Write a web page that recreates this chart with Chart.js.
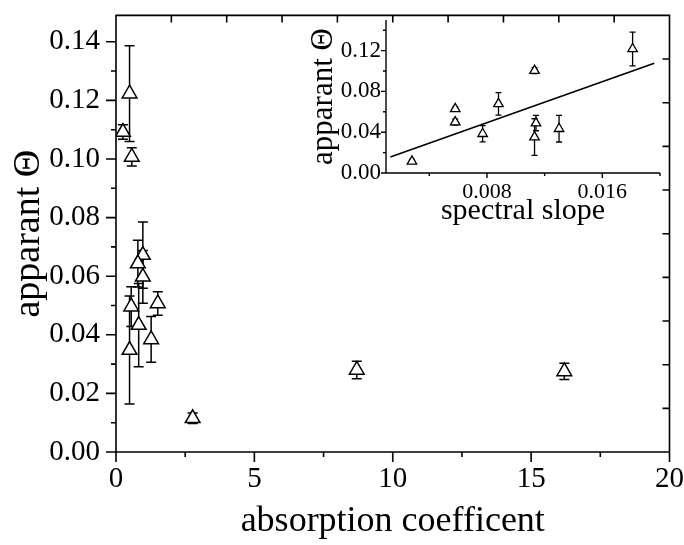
<!DOCTYPE html>
<html>
<head>
<meta charset="utf-8">
<script src="https://cdn.jsdelivr.net/npm/chart.js@4.4.0/dist/chart.umd.min.js"></script>
<style>
  html, body { margin: 0; padding: 0; background: #fff; overflow: hidden; }
  #wrap { position: relative; width: 684px; height: 545px; overflow: hidden; }
  /* main canvas is a bit larger than the window: Chart.js keeps label margins at the top/right */
  #main { position: absolute; left: 0; top: -18px; }
  #inset { position: absolute; left: 296px; top: 0; }
</style>
</head>
<body>
<div id="wrap">
  <canvas id="main" width="694" height="563"></canvas>
  <canvas id="inset" width="380" height="235"></canvas>
</div>
<script>
// main plot: apparent theta vs absorption coefficient
const absorption = [0.49, 0.25, 0.57, 0.97, 0.79, 0.97, 1.51, 0.55, 0.82, 1.27, 0.49, 2.77, 8.7, 16.2];
const thetaMain = [0.1223, 0.1092, 0.1007, 0.0672, 0.0643, 0.0598, 0.0507, 0.0496, 0.0433, 0.0384, 0.0348, 0.0115, 0.0280, 0.0275];
const thetaMainErr = [0.0163, 0.0025, 0.0031, 0.0113, 0.0080, 0.0090, 0.0040, 0.0068, 0.0142, 0.0078, 0.0184, 0.0018, 0.0030, 0.0028];
const mainXTicks = [0, 5, 10, 15, 20];
const mainYTicks = [0, 0.02, 0.04, 0.06, 0.08, 0.10, 0.12, 0.14];

// inset: apparent theta vs spectral slope, with linear fit
const slope = [0.0028, 0.0058, 0.0058, 0.0077, 0.0088, 0.0113, 0.0114, 0.0113, 0.0130, 0.0181];
const thetaInset = [0.0114, 0.0629, 0.0499, 0.0385, 0.0678, 0.1004, 0.0489, 0.0352, 0.0434, 0.1216];
const thetaInsetErr = [0.0020, 0.0020, 0.0030, 0.0080, 0.0110, 0.0030, 0.0075, 0.0180, 0.0130, 0.0165];
const fitX = [0.0013, 0.0196];
const fitY = [0.0157, 0.1076];
const insetXTicks = [0.008, 0.016];
const insetYTicks = [0, 0.04, 0.08, 0.12];

const serif = 'Liberation Serif';

// vertical error bars with caps, drawn under the markers
const errorBars = {
    id: 'errorBars',
    beforeDatasetsDraw(chart, args, opts) {
        const ctx = chart.ctx;
        const xs = chart.scales.x, ys = chart.scales.y;
        const pts = chart.data.datasets[0].data;
        ctx.save();
        ctx.strokeStyle = '#000';
        ctx.lineWidth = opts.width;
        pts.forEach(function(p, i) {
            const px = xs.getPixelForValue(p.x);
            const t = ys.getPixelForValue(p.y + opts.errors[i]);
            const b = ys.getPixelForValue(p.y - opts.errors[i]);
            ctx.beginPath();
            ctx.moveTo(px, t); ctx.lineTo(px, b);
            ctx.moveTo(px - opts.cap, t); ctx.lineTo(px + opts.cap, t);
            ctx.moveTo(px - opts.cap, b); ctx.lineTo(px + opts.cap, b);
            ctx.stroke();
        });
        ctx.restore();
    }
};

// axis frame and tick marks (major + minor), Origin style
const frame = {
    id: 'frame',
    afterDraw(chart, args, opts) {
        const ctx = chart.ctx;
        const a = chart.chartArea;
        const xs = chart.scales.x, ys = chart.scales.y;
        ctx.save();
        ctx.strokeStyle = '#000';
        ctx.lineWidth = opts.width;
        ctx.beginPath();
        if (opts.box) {
            ctx.rect(a.left, a.top, a.right - a.left, a.bottom - a.top);
        } else {
            ctx.moveTo(a.left, a.top); ctx.lineTo(a.left, a.bottom); ctx.lineTo(a.right, a.bottom);
        }
        opts.xMajor.forEach(function(v) {
            const px = xs.getPixelForValue(v);
            ctx.moveTo(px, a.bottom); ctx.lineTo(px, a.bottom + opts.major);
        });
        opts.xMinor.forEach(function(v) {
            const px = xs.getPixelForValue(v);
            ctx.moveTo(px, a.bottom); ctx.lineTo(px, a.bottom + opts.minor);
        });
        opts.yMajor.forEach(function(v) {
            const py = ys.getPixelForValue(v);
            ctx.moveTo(a.left, py); ctx.lineTo(a.left - opts.major, py);
        });
        opts.yMinor.forEach(function(v) {
            const py = ys.getPixelForValue(v);
            ctx.moveTo(a.left, py); ctx.lineTo(a.left - opts.minor, py);
        });
        if (opts.box) {
            // top and right axes: ten equal divisions, ticks pointing inward
            for (let k = 1; k < 10; k++) {
                const px = a.left + (a.right - a.left) * k / 10;
                ctx.moveTo(px, a.top); ctx.lineTo(px, a.top + opts.minor + 2);
                const py = a.top + (a.bottom - a.top) * k / 10;
                ctx.moveTo(a.right, py); ctx.lineTo(a.right - opts.minor - 2, py);
            }
        }
        ctx.stroke();
        ctx.restore();
    }
};

function points(xv, yv) {
    return xv.map(function(x, i) { return { x: x, y: yv[i] }; });
}

new Chart(document.getElementById('main').getContext('2d'), {
    type: 'scatter',
    data: {
        datasets: [{
            data: points(absorption, thetaMain),
            pointStyle: 'triangle',
            pointRadius: 8.5,
            backgroundColor: '#fff',
            borderColor: '#000',
            borderWidth: 1.5
        }]
    },
    options: {
        responsive: false,
        animation: false,
        devicePixelRatio: 1,
        layout: { padding: { top: 14, right: 14, left: 0, bottom: 0 } },
        plugins: {
            legend: { display: false },
            tooltip: { enabled: false },
            errorBars: { errors: thetaMainErr, cap: 5, width: 1.5 },
            frame: {
                box: true, width: 1.6, major: 10, minor: 5,
                xMajor: mainXTicks, xMinor: [2.5, 7.5, 12.5, 17.5],
                yMajor: mainYTicks, yMinor: [0.01, 0.03, 0.05, 0.07, 0.09, 0.11, 0.13]
            }
        },
        scales: {
            x: {
                type: 'linear', min: 0, max: 20,
                afterBuildTicks: function(s) { s.ticks = mainXTicks.map(function(v) { return { value: v }; }); },
                afterFit: function(s) { s.height = 93; },
                grid: { display: false, drawTicks: false },
                border: { display: false },
                ticks: { color: '#000', padding: 10, maxRotation: 0, font: { family: serif, size: 29 } },
                title: {
                    display: true, text: 'absorption coefficent', color: '#000',
                    font: { family: serif, size: 36 }, padding: { top: 2, bottom: 2 }
                }
            },
            y: {
                type: 'linear', min: 0, max: 0.149,
                afterBuildTicks: function(s) { s.ticks = mainYTicks.map(function(v) { return { value: v }; }); },
                afterFit: function(s) { s.width = 116; },
                grid: { display: false, drawTicks: false },
                border: { display: false },
                ticks: {
                    color: '#000', padding: 16, font: { family: serif, size: 29 },
                    callback: function(v) { return v.toFixed(2); }
                },
                title: {
                    display: true, text: 'apparant Θ', color: '#000',
                    font: { family: serif, size: 38 }, padding: { top: 6, bottom: 6 }
                }
            }
        }
    },
    plugins: [errorBars, frame]
});

new Chart(document.getElementById('inset').getContext('2d'), {
    type: 'scatter',
    data: {
        datasets: [{
            data: points(slope, thetaInset),
            pointStyle: 'triangle',
            pointRadius: 5.5,
            backgroundColor: '#fff',
            borderColor: '#000',
            borderWidth: 1.3
        }, {
            type: 'line',
            data: points(fitX, fitY),
            borderColor: '#000',
            borderWidth: 1.6,
            pointRadius: 0,
            fill: false
        }]
    },
    options: {
        responsive: false,
        animation: false,
        devicePixelRatio: 1,
        layout: { padding: { top: 20, right: 16, left: 0, bottom: 0 } },
        plugins: {
            legend: { display: false },
            tooltip: { enabled: false },
            errorBars: { errors: thetaInsetErr, cap: 3, width: 1.3 },
            frame: {
                box: false, width: 1.4, major: 5, minor: 3,
                xMajor: insetXTicks, xMinor: [0.004, 0.012, 0.020],
                yMajor: insetYTicks, yMinor: [0.02, 0.06, 0.10, 0.14]
            }
        },
        scales: {
            x: {
                type: 'linear', min: 0.001, max: 0.020,
                afterBuildTicks: function(s) { s.ticks = insetXTicks.map(function(v) { return { value: v }; }); },
                afterFit: function(s) { s.height = 62; },
                grid: { display: false, drawTicks: false },
                border: { display: false },
                ticks: {
                    color: '#000', padding: 6, maxRotation: 0, font: { family: serif, size: 22 },
                    callback: function(v) { return v.toFixed(3); }
                },
                title: {
                    display: true, text: 'spectral slope', color: '#000',
                    font: { family: serif, size: 30 }, padding: { top: 6, bottom: 6 }
                }
            },
            y: {
                type: 'linear', min: 0, max: 0.15,
                afterBuildTicks: function(s) { s.ticks = insetYTicks.map(function(v) { return { value: v }; }); },
                afterFit: function(s) { s.width = 90; },
                grid: { display: false, drawTicks: false },
                border: { display: false },
                ticks: {
                    color: '#000', padding: 5, font: { family: serif, size: 23 },
                    callback: function(v) { return v.toFixed(2); }
                },
                title: {
                    display: true, text: 'apparant Θ', color: '#000',
                    font: { family: serif, size: 31 }, padding: { top: 9, bottom: 9 }
                }
            }
        }
    },
    plugins: [errorBars, frame]
});
</script>
</body>
</html>
